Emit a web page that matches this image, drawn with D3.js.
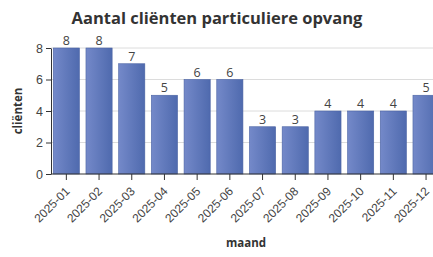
<!DOCTYPE html>
<html>
<head>
<meta charset="utf-8">
<script src="https://cdn.jsdelivr.net/npm/d3@7"></script>
<style>
  body { margin: 0; background: #fff; }
  svg { font-family: "Open Sans", "Noto Sans", sans-serif; }
  .title { font-size: 16.5px; font-weight: bold; fill: #333; }
  .axis-label { font-size: 11.5px; font-weight: bold; fill: #333; }
  .axis text { font-size: 12.5px; fill: #444; }
  .axis path, .axis line { stroke: #333; }
  .val { font-size: 12.5px; fill: #444; }
</style>
</head>
<body>
<div id="chart"></div>
<script>
// data
var months = ["2025-01", "2025-02", "2025-03", "2025-04", "2025-05", "2025-06",
              "2025-07", "2025-08", "2025-09", "2025-10", "2025-11", "2025-12"];
var clients = [8, 8, 7, 5, 6, 6, 3, 3, 4, 4, 4, 5];
var yTicks = [0, 2, 4, 6, 8];

var width = 433, height = 257;

var svg = d3.select("#chart").append("svg")
  .attr("width", width)
  .attr("height", height);

var defs = svg.append("defs");
var grad = defs.append("linearGradient").attr("id", "barGrad")
  .attr("x1", "0%").attr("x2", "100%").attr("y1", "0%").attr("y2", "0%");
grad.append("stop").attr("offset", "0%").attr("stop-color", "#7489c9");
grad.append("stop").attr("offset", "100%").attr("stop-color", "#4f6aae");

var x = d3.scaleBand().domain(months).range([50, 442.4])
  .paddingInner(0.2).paddingOuter(0.1);
var y = d3.scaleLinear().domain([0, 8]).range([174, 48]);

// gridlines
svg.append("g").selectAll("line").data(yTicks.slice(1)).enter().append("line")
  .attr("x1", 51).attr("x2", width)
  .attr("y1", function (d) { return y(d); })
  .attr("y2", function (d) { return y(d); })
  .attr("stroke", "#dcdcdc").attr("stroke-width", 1);

// bars
svg.append("g").selectAll("rect").data(months).enter().append("rect")
  .attr("x", function (d) { return x(d); })
  .attr("width", x.bandwidth())
  .attr("y", function (d, i) { return y(clients[i]); })
  .attr("height", function (d, i) { return y(0) - y(clients[i]); })
  .attr("fill", "url(#barGrad)")
  .attr("stroke", "#4a63a3").attr("stroke-width", 0.6);

// value labels
svg.append("g").selectAll("text").data(months).enter().append("text")
  .attr("class", "val")
  .attr("x", function (d) { return x(d) + x.bandwidth() / 2; })
  .attr("y", function (d, i) { return y(clients[i]) - 3; })
  .attr("text-anchor", "middle")
  .text(function (d, i) { return clients[i]; });

// axes
var xAxis = svg.append("g").attr("class", "axis")
  .attr("transform", "translate(0," + y(0) + ")")
  .call(d3.axisBottom(x).tickSize(6).tickSizeOuter(0));
xAxis.select(".domain").attr("d", "M51,0H" + width);
xAxis.selectAll("text")
  .attr("x", 0).attr("y", 0).attr("dy", 0)
  .attr("text-anchor", "end")
  .style("font-size", "12px")
  .attr("transform", "translate(4,18) rotate(-45)");

var yAxis = svg.append("g").attr("class", "axis")
  .attr("transform", "translate(51,0)")
  .call(d3.axisLeft(y).tickValues(yTicks).tickSize(5).tickSizeOuter(0));

// labels
svg.append("text").attr("class", "title")
  .attr("x", 217).attr("y", 24).attr("text-anchor", "middle")
  .text("Aantal cliënten particuliere opvang");

svg.append("text").attr("class", "axis-label")
  .attr("transform", "translate(22,111) rotate(-90)")
  .attr("text-anchor", "middle")
  .text("cliënten");

svg.append("text").attr("class", "axis-label")
  .attr("x", 246).attr("y", 247).attr("text-anchor", "middle")
  .text("maand");
</script>
</body>
</html>
